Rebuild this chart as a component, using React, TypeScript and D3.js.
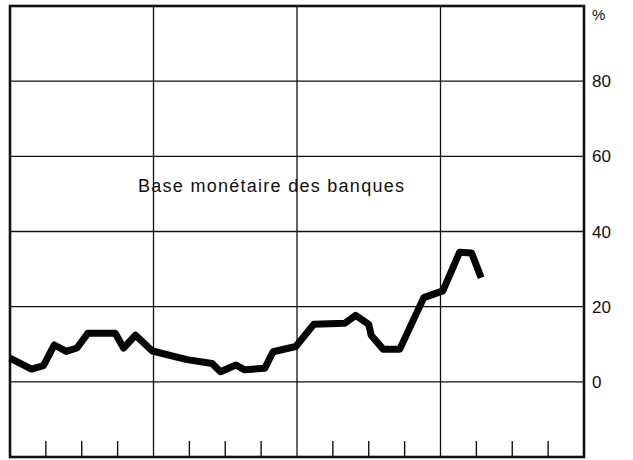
import { useEffect, useRef } from 'react';
import * as d3 from 'd3';

// months since start of the first year and the rate in %
const months = [0, 1.8, 2.8, 3.7, 4.7, 5.6, 6.5, 8.8, 9.5, 10.5, 11.9, 14.8, 16.9, 17.6, 18.9, 19.6, 21.3, 22.0, 23.9, 25.4, 28.0, 28.9, 30.0, 30.2, 31.2, 32.6, 34.6, 36.2, 37.6, 38.6, 39.4];
const values = [6.3, 3.4, 4.3, 9.8, 8.1, 9.0, 12.9, 12.9, 9.0, 12.4, 8.2, 5.9, 4.9, 2.7, 4.5, 3.2, 3.6, 8.0, 9.4, 15.3, 15.6, 17.7, 15.3, 12.4, 8.7, 8.7, 22.4, 24.2, 34.5, 34.3, 27.7];
const yTicks = [0, 20, 40, 60, 80];
const yearCount = 4;
const seriesLabel = 'Base monétaire des banques';

const App = () => {
  const svgRef = useRef<SVGSVGElement | null>(null);

  useEffect(() => {
    if (!svgRef.current) return;
    const svg = d3.select(svgRef.current);
    svg.selectAll('*').remove();

    const left = 10, right = 584, top = 6, bottom = 457;
    const x = d3.scaleLinear().domain([0, yearCount * 12]).range([left, right]);
    const y = d3.scaleLinear().domain([-20, 100]).range([bottom, top]);
    const ink = '#111';
    const font = '"Liberation Sans", Arial, sans-serif';

    // horizontal grid
    svg.append('g')
      .selectAll('line')
      .data(yTicks)
      .join('line')
      .attr('x1', left).attr('x2', right)
      .attr('y1', d => y(d)).attr('y2', d => y(d))
      .attr('stroke', ink).attr('stroke-width', 1.3);

    // year gridlines
    svg.append('g')
      .selectAll('line')
      .data(d3.range(1, yearCount).map(i => i * 12))
      .join('line')
      .attr('x1', d => x(d)).attr('x2', d => x(d))
      .attr('y1', top).attr('y2', bottom)
      .attr('stroke', ink).attr('stroke-width', 1.3);

    // quarter ticks on the bottom
    svg.append('g')
      .selectAll('line')
      .data(d3.range(3, yearCount * 12, 3).filter(m => m % 12 !== 0))
      .join('line')
      .attr('x1', d => x(d)).attr('x2', d => x(d))
      .attr('y1', bottom - 16).attr('y2', bottom)
      .attr('stroke', ink).attr('stroke-width', 1.4);

    // frame
    svg.append('rect')
      .attr('x', left).attr('y', top)
      .attr('width', right - left).attr('height', bottom - top)
      .attr('fill', 'none').attr('stroke', ink).attr('stroke-width', 2.6);

    // series line
    const line = d3.line<number>()
      .x((_, i) => x(months[i]))
      .y(d => y(d));

    svg.append('path')
      .datum(values)
      .attr('d', line)
      .attr('fill', 'none')
      .attr('stroke', '#050505')
      .attr('stroke-width', 7)
      .attr('stroke-linejoin', 'round')
      .attr('stroke-linecap', 'butt');

    // right axis labels
    svg.append('g')
      .attr('font-family', font)
      .attr('font-size', 17)
      .attr('fill', ink)
      .selectAll('text')
      .data(yTicks)
      .join('text')
      .attr('x', right + 8)
      .attr('y', d => y(d))
      .attr('dy', '0.36em')
      .text(d => d);

    svg.append('text')
      .attr('x', right + 8)
      .attr('y', 20)
      .attr('font-family', font)
      .attr('font-size', 15)
      .attr('fill', ink)
      .text('%');

    svg.append('text')
      .attr('x', 138)
      .attr('y', 192)
      .attr('font-family', font)
      .attr('font-size', 18)
      .attr('fill', ink)
      .attr('textLength', 266)
      .attr('lengthAdjust', 'spacing')
      .text(seriesLabel);
  }, []);

  return (
    <svg
      ref={svgRef}
      width={633}
      height={460}
      style={{ position: 'absolute', left: 0, top: 0, background: '#fff' }}
    />
  );
};

export default App;
